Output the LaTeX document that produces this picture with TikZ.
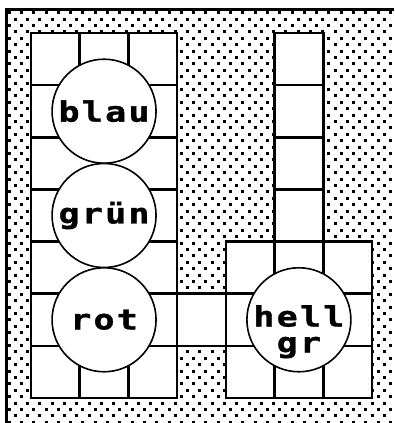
\documentclass[tikz,border=0pt]{standalone}
\usepackage{fontspec}
\newfontfamily\pixfont[FakeStretch=1.25,FakeBold=1.2,LetterSpace=8]{DejaVu Sans Mono}

\begin{document}
\begin{tikzpicture}[x=1pt, y=-1pt,
    wall/.style={line width=2.6pt},
    ring/.style={circle, draw, line width=1.6pt, fill=white,
      minimum size=104pt, inner sep=0pt},
    word/.style={font=\pixfont\bfseries\fontsize{28}{26}\selectfont}]
  \useasboundingbox (0,0) rectangle (394,423);

  % dotted ground
  \begin{scope}
    \clip (8,10.5) rectangle (394,423);
    \foreach \j in {0,...,65}
      \foreach \i in {0,...,32}
        \fill ({3+6.15*mod(\j+1,2)+12.3*\i-1.5},{12.7+6.4*\j-1.5})
          rectangle ++(3,3);
  \end{scope}
  \draw[line width=3pt] (6.5,423) -- (6.5,9) -- (394,9);

  \begin{scope}[shift={(31,33)}, x=48.71pt, y=-52.14pt]
    % white floor
    \fill[white] (0,0) rectangle (3,7) (5,0) rectangle (6,4)
      (4,4) rectangle (7,7) (3,5) rectangle (4,6);
    % left column
    \foreach \c in {1,2}
      \draw[wall] (\c,0) -- (\c,1) (\c,6) -- (\c,7);
    \foreach \r in {1,...,4}
      \draw[wall] (0,\r) -- (3,\r);
    \draw[wall] (0,0) rectangle (3,7);
    % right column
    \foreach \r in {1,2,3}
      \draw[wall] (5,\r) -- (6,\r);
    \draw[wall] (5,4) -- (5,0) -- (6,0) -- (6,4);
    % square and passage
    \foreach \c in {5,6}
      \draw[wall] (\c,4) -- (\c,7);
    \foreach \r in {5,6}
      \draw[wall] (0,\r) -- (7,\r);
    \draw[wall] (4,4) rectangle (7,7);

    \node[ring, word] (blau) at (1.5,1.5) {blau};
    \node[ring, word] (gruen) at (1.5,3.5) {grün};
    \node[ring, word] (rot) at (1.5,5.5) {rot};
    \node[ring] (hellgr) at (5.5,5.5) {};
    \node[word, align=center, inner sep=0pt] (hellgr-text)
      at ([yshift=-12pt]hellgr.center) {hell\\gr};
  \end{scope}
\end{tikzpicture}
\end{document}
